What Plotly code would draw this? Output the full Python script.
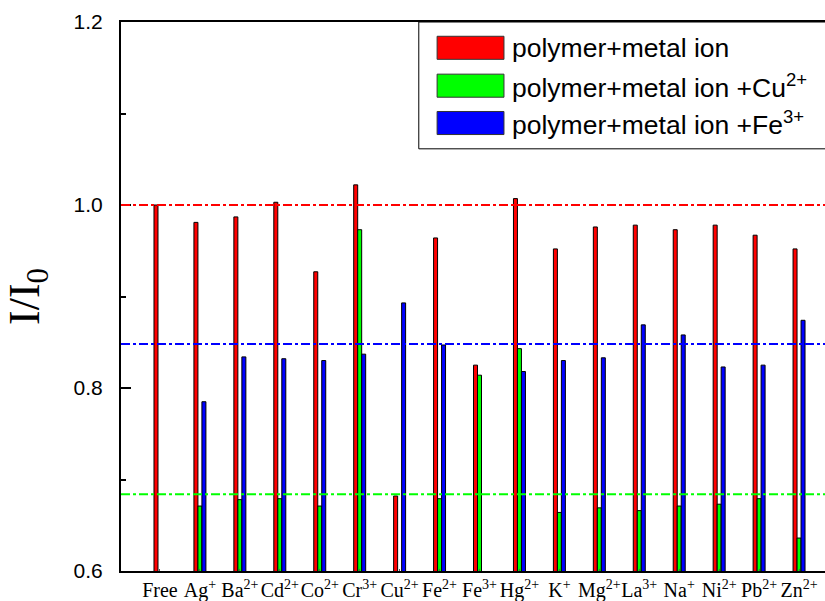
import plotly.graph_objects as go

categories = ["Free", "Ag<sup>+</sup>", "Ba<sup>2+</sup>", "Cd<sup>2+</sup>", "Co<sup>2+</sup>",
              "Cr<sup>3+</sup>", "Cu<sup>2+</sup>", "Fe<sup>2+</sup>", "Fe<sup>3+</sup>",
              "Hg<sup>2+</sup>", "K<sup>+</sup>", "Mg<sup>2+</sup>", "La<sup>3+</sup>",
              "Na<sup>+</sup>", "Ni<sup>2+</sup>", "Pb<sup>2+</sup>", "Zn<sup>2+</sup>"]

polymer_metal = [1.000, 0.981, 0.987, 1.003, 0.927, 1.022, 0.682, 0.964, 0.825,
                 1.007, 0.952, 0.976, 0.978, 0.973, 0.978, 0.967, 0.952]
plus_cu = [None, 0.671, 0.678, 0.679, 0.671, 0.973, None, 0.679, 0.814,
           0.843, 0.664, 0.669, 0.666, 0.671, 0.673, 0.679, 0.636]
plus_fe = [None, 0.785, 0.834, 0.832, 0.830, 0.837, 0.893, 0.847, None,
           0.818, 0.830, 0.833, 0.869, 0.858, 0.823, 0.825, 0.874]

series_names = ["polymer+metal ion", "polymer+metal ion +Cu<sup>2+</sup>",
                "polymer+metal ion +Fe<sup>3+</sup>"]
series_colors = ["#ff0000", "#00ff00", "#0000ff"]
series_values = [polymer_metal, plus_cu, plus_fe]

ref_levels = [1.000, 0.848, 0.684]
ref_colors = ["#ff0000", "#0000ff", "#00ff00"]

y_ticks = [0.6, 0.8, 1.0, 1.2]
y_ticklabels = ["0.6", "0.8", "1.0", "1.2"]

x_idx = list(range(len(categories)))

fig = go.Figure()
for name, color, vals in zip(series_names, series_colors, series_values):
    fig.add_trace(go.Bar(
        x=x_idx, y=vals, name=name, showlegend=False,
        marker=dict(color=color, line=dict(color="black", width=1)),
    ))

shapes = []
for lvl, col in zip(ref_levels, ref_colors):
    shapes.append(dict(type="line", xref="paper", yref="y", x0=0, x1=1, y0=lvl, y1=lvl,
                       line=dict(color=col, width=2, dash="dashdot"), layer="above"))

# custom legend box
shapes.append(dict(type="rect", xref="paper", yref="paper", x0=0.423, x1=1.02, y0=0.769, y1=1.0,
                   line=dict(color="black", width=1), fillcolor="white", layer="above"))
annotations = []
row_y = [0.953, 0.884, 0.816]
for ry, name, color in zip(row_y, series_names, series_colors):
    shapes.append(dict(type="rect", xref="paper", yref="paper", x0=0.449, x1=0.544,
                       y0=ry - 0.021, y1=ry + 0.021,
                       line=dict(color="#333333", width=1), fillcolor=color, layer="above"))
    annotations.append(dict(xref="paper", yref="paper", x=0.553, y=ry, xanchor="left",
                            yanchor="middle", text=name, showarrow=False,
                            font=dict(family="Liberation Sans, Arial", size=26.5, color="black")))

fig.update_layout(
    width=825, height=601,
    margin=dict(l=121, r=0, t=22, b=30),
    plot_bgcolor="white", paper_bgcolor="white",
    barmode="group", bargap=0.7, bargroupgap=0,
    shapes=shapes, annotations=annotations,
    showlegend=False,
    xaxis=dict(
        range=[-0.976, 16.65], tickmode="array", tickvals=x_idx, ticktext=categories,
        tickangle=0, automargin=False,
        showline=True, linecolor="black", linewidth=2, mirror=True,
        ticks="inside", ticklen=2, tickcolor="#555555",
        showgrid=False, zeroline=False,
        tickfont=dict(family="Liberation Serif, Times New Roman", size=20, color="black"),
    ),
    yaxis=dict(
        range=[0.6, 1.2], tickmode="array", tickvals=y_ticks, ticktext=y_ticklabels,
        showline=True, linecolor="black", linewidth=2,
        ticks="inside", ticklen=10, tickwidth=2, tickcolor="black",
        minor=dict(tickvals=[0.7, 0.9, 1.1], ticks="inside", ticklen=5, tickwidth=2, tickcolor="black"),
        showgrid=False, zeroline=False, automargin=False,
        ticklabelstandoff=12,
        tickfont=dict(family="Liberation Sans, Arial", size=21, color="black"),
        title=dict(text="I/I<sub>0</sub>", standoff=20,
                   font=dict(family="Liberation Serif, Times New Roman", size=44, color="black")),
    ),
)

fig.write_html("out.html")
